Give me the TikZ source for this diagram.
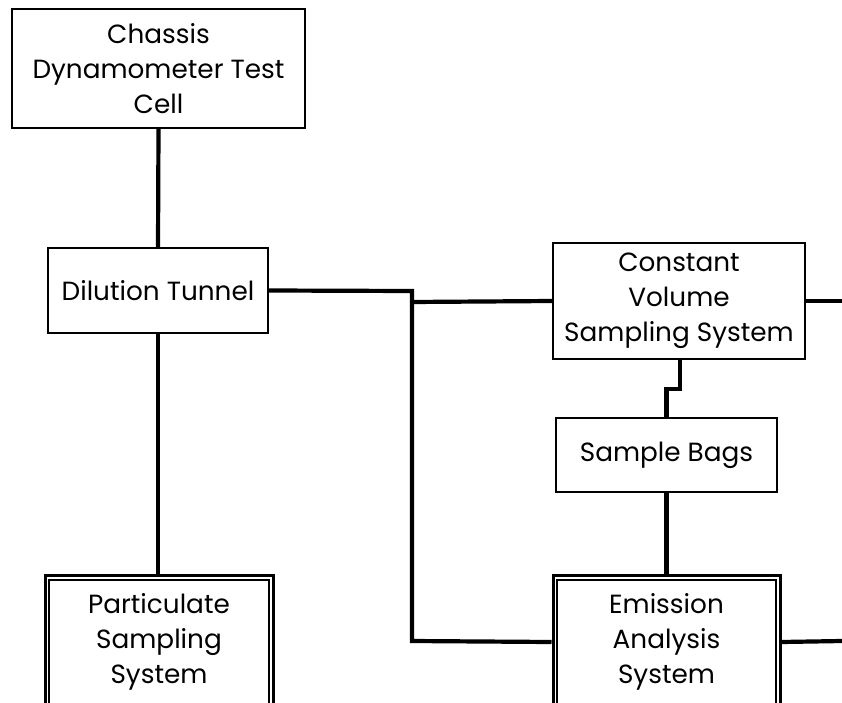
\documentclass[tikz,border=0pt]{standalone}
\usepackage{fontspec}
\setmainfont{Poppins}
\begin{document}
\begin{tikzpicture}[x=1pt,y=-1pt,
  box/.style={draw=black,line width=2pt,fill=white,align=center,inner sep=0pt,font=\fontsize{26.3}{34.8}\selectfont},
  dbox/.style={box,line width=3pt},
  conn/.style={draw=black,line width=4.2pt,line join=miter}]
\useasboundingbox (0,0) rectangle (842,703);
\fill[white] (0,0) rectangle (842,703);
\begin{scope}
\clip (0,0) rectangle (842,703);
\node[box,minimum width=293pt,minimum height=119pt] (cell) at (158.5,68.5) {Chassis\\Dynamometer Test\\Cell};
\node[box,minimum width=220pt,minimum height=85pt] (dil) at (158,290.5) {Dilution Tunnel};
\node[box,minimum width=252pt,minimum height=116pt] (cvs) at (679,301) {Constant\\Volume\\Sampling System};
\node[box,minimum width=221pt,minimum height=74pt] (bags) at (666.5,455) {Sample Bags};
\node[dbox,minimum width=228pt,minimum height=134pt] (part) at (159,642) {Particulate\\Sampling\\System};
\node[dbox,minimum width=227pt,minimum height=134pt] (ems) at (666.5,642) {Emission\\Analysis\\System};
\draw[line width=2pt] ([shift={(5.5pt,-6pt)}]part.north west) rectangle ([shift={(-5.5pt,6pt)}]part.south east);
\draw[line width=2pt] ([shift={(5.5pt,-6pt)}]ems.north west) rectangle ([shift={(-5.5pt,6pt)}]ems.south east);

\coordinate (j1) at (412,291);
\coordinate (j2) at (412,641);
\coordinate (j3) at (412,302);
\coordinate (r1) at (842,301);
\coordinate (r2) at (842,641);
\coordinate (k1) at (680,389);
\coordinate (k2) at (666.5,389);

\draw[conn] (cell.south) -- (dil.north);
\draw[conn] (dil.south) -- (dil.south |- part.north);
\draw[conn] (dil.east) -- (j1) -- (j2) -- (ems.west);
\draw[conn] (j3) -- (cvs.west);
\draw[conn] (cvs.east) -- (r1);
\draw[conn] (ems.east) -- (r2);
\draw[conn] (k1 |- cvs.south) -- (k1) -- (k2) -- (bags.north);
\draw[conn] (bags.south) -- (ems.north);
\end{scope}
\end{tikzpicture}
\end{document}
